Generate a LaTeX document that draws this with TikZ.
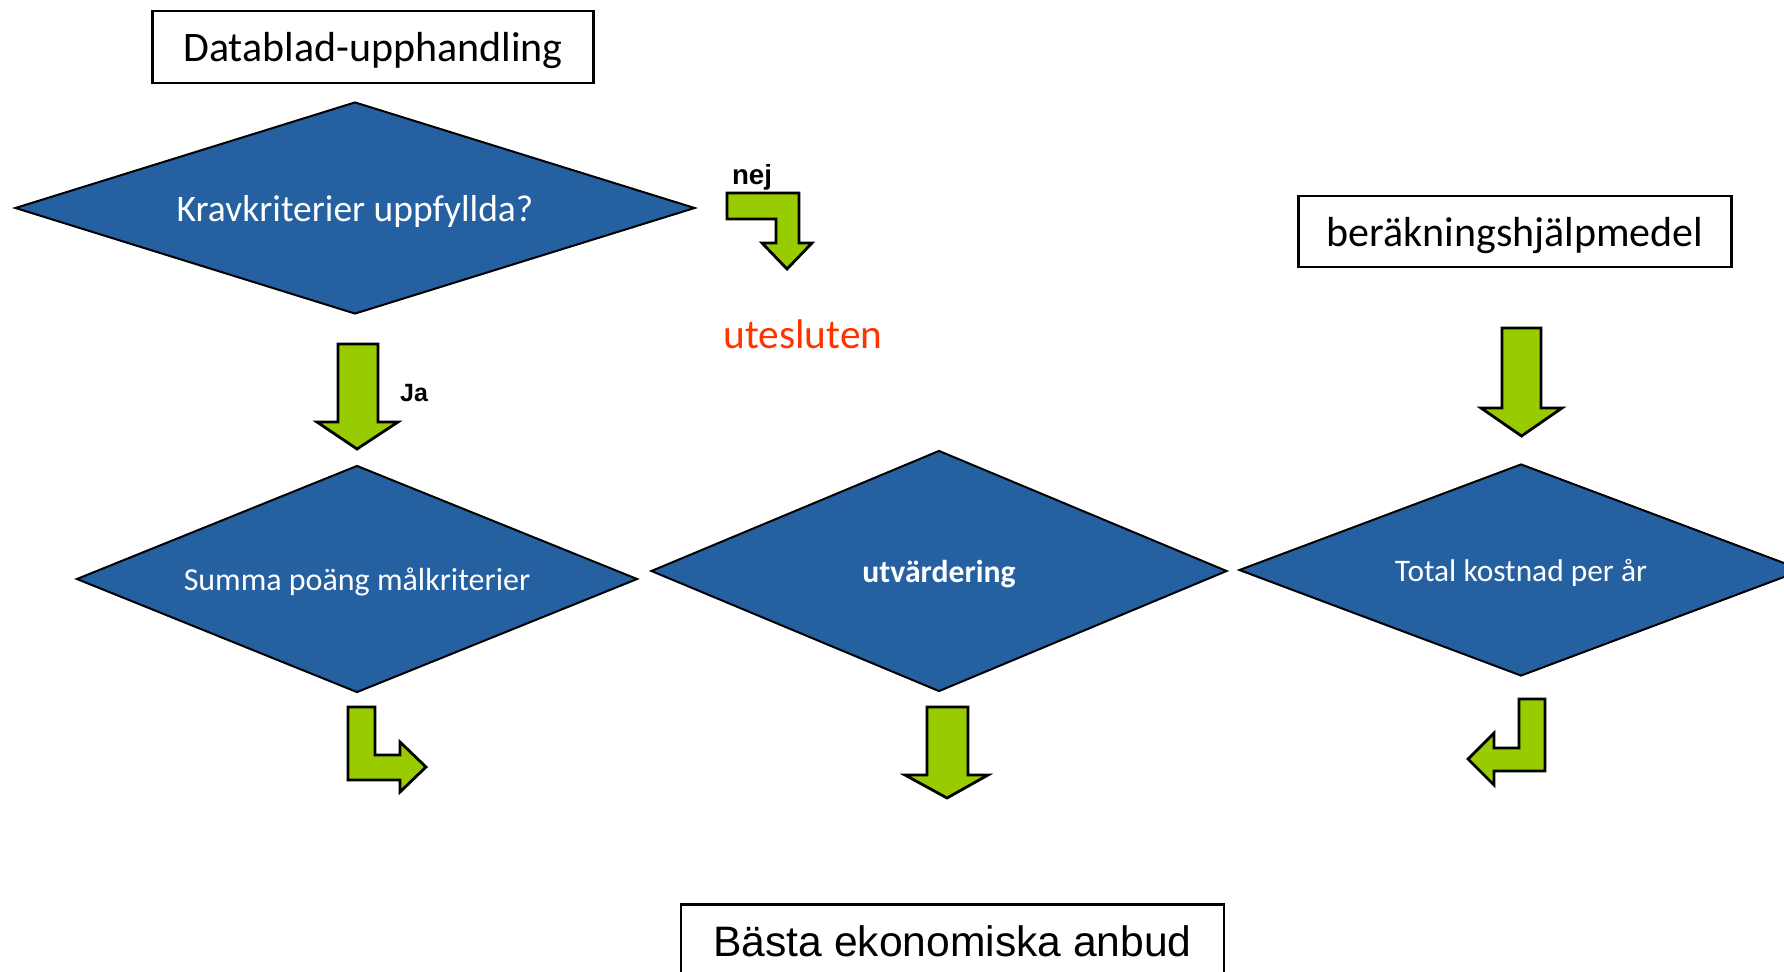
\documentclass[tikz,border=0pt]{standalone}
\usepackage{fontspec}
\setmainfont{Carlito}
\newfontfamily\arialfont{Liberation Sans}
\usetikzlibrary{shapes.geometric}
\definecolor{diablue}{RGB}{37,96,161}
\definecolor{arrowgreen}{RGB}{153,204,0}
\definecolor{outred}{RGB}{255,51,0}
\begin{document}
\begin{tikzpicture}[x=1pt,y=-1pt,
    box/.style={draw,line width=2.5pt,inner sep=0pt,text depth=0pt},
    dia/.style={diamond,draw,line width=2pt,fill=diablue,text=white,inner sep=0pt,text depth=0pt},
    fatarrow/.style={draw,line width=2.8pt,fill=arrowgreen,line join=miter},
    lbl/.style={anchor=base,inner sep=0pt}]
  \useasboundingbox (0,0) rectangle (1784,971);
  \clip (0,0) rectangle (1784,971);
  % boxes
  \node[box,minimum width=441,minimum height=72,font=\fontsize{42}{50}\selectfont] (datablad) at (373,47) {Datablad-upphandling};
  \node[box,minimum width=433,minimum height=71,font=\fontsize{42}{50}\selectfont] (hjalp) at (1515,231.5) {beräkningshjälpmedel};
  \node[box,minimum width=543,minimum height=73,font=\arialfont\fontsize{42.6}{51}\selectfont] (basta) at (952.5,941) {Bästa ekonomiska anbud};
  % diamonds
  \node[dia,minimum width=680,minimum height=212,aspect=3.2,font=\fontsize{37.5}{45}\selectfont] (krav) at (355,208) {Kravkriterier uppfyllda?};
  \node[dia,minimum width=561,minimum height=227,aspect=2.47,font=\fontsize{32}{38}\selectfont] (summa) at (357,579) {Summa poäng målkriterier};
  \node[dia,minimum width=576,minimum height=241,aspect=2.4,font=\fontsize{31.7}{38}\selectfont\bfseries] (utv) at (939,571) {utvärdering};
  \node[dia,minimum width=564,minimum height=212,aspect=2.66,font=\fontsize{31.4}{38}\selectfont] (total) at (1521,570) {Total kostnad per år};
  % labels
  \node[lbl,text=outred,font=\fontsize{41.4}{50}\selectfont] (ute) at (803,348) {utesluten};
  \node[lbl,font=\arialfont\bfseries\fontsize{27.7}{33}\selectfont] (nej) at (752,184) {nej};
  \node[lbl,font=\arialfont\bfseries\fontsize{25}{30}\selectfont] (ja) at (414,401) {Ja};
  % green arrows
  \draw[fatarrow] (727,193) -- (799,193) -- (799,243) -- (812,243) -- (787,269)
        -- (762,243) -- (776,243) -- (776,219) -- (727,219) -- cycle;
  \draw[fatarrow] (338,344) -- (378,344) -- (378,422) -- (398,422) -- (357,449)
        -- (317,422) -- (338,422) -- cycle;
  \draw[fatarrow] (1502,328) -- (1541,328) -- (1541,408) -- (1562,408) -- (1521.5,436)
        -- (1481,408) -- (1502,408) -- cycle;
  \draw[fatarrow] (927,707) -- (968,707) -- (968,775) -- (988,775) -- (947,798)
        -- (905,775) -- (927,775) -- cycle;
  \draw[fatarrow] (348,707) -- (375,707) -- (375,755) -- (400,755) -- (400,742)
        -- (426,767) -- (400,792) -- (400,780) -- (348,780) -- cycle;
  \draw[fatarrow] (1519,699) -- (1545,699) -- (1545,771) -- (1494,771) -- (1494,785)
        -- (1468,759) -- (1494,733) -- (1494,748) -- (1519,748) -- cycle;
\end{tikzpicture}
\end{document}
